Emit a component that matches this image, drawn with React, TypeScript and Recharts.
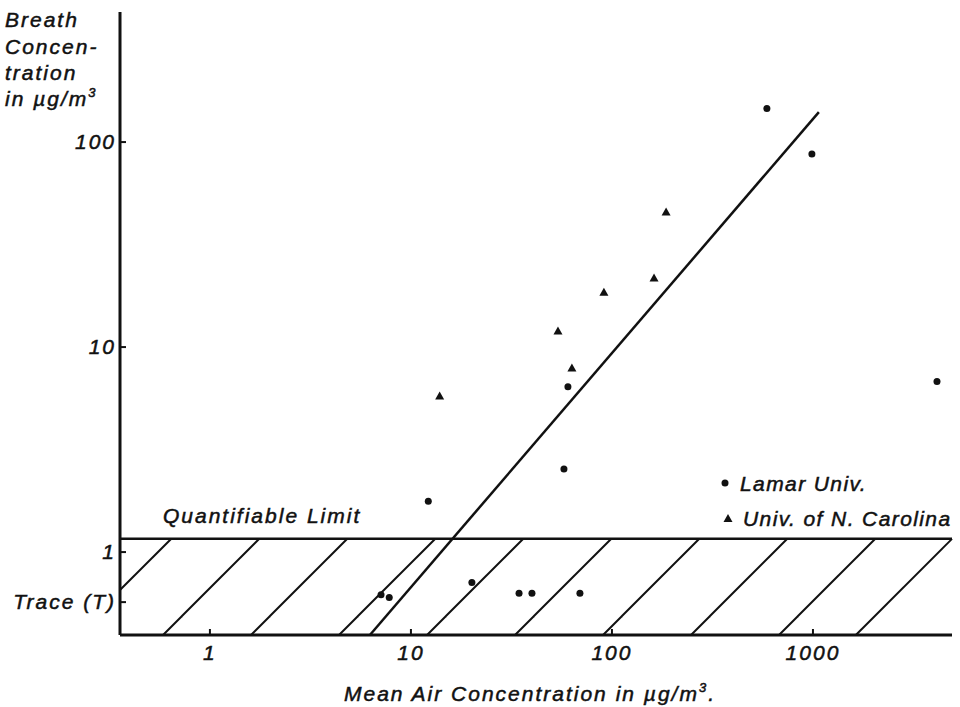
import React from 'react';
import { ScatterChart, Scatter, XAxis, YAxis, ReferenceArea, ReferenceLine } from 'recharts';

// Lamar Univ. samples (air, breath) in µg/m³
const lamarAir = [590, 988, 4140, 60.4, 57.7, 12.2, 7.1, 7.8, 20.1, 34.5, 40.0, 69.3];
const lamarBreath = [146, 87.4, 6.8, 6.4, 2.54, 1.77, 0.62, 0.6, 0.71, 0.63, 0.63, 0.63];

// Univ. of N. Carolina samples
const uncAir = [13.9, 53.9, 63.2, 91.2, 162, 186];
const uncBreath = [5.77, 11.97, 7.9, 18.5, 21.7, 45.6];

// fitted line end points
const fitAir = [6.25, 1070];
const fitBreath = [0.394, 140];

const xTicks = [1, 10, 100, 1000];
const yTicks = [0.57, 1, 10, 100];
const yTickLabels = ['Trace (T)', '1', '10', '100'];
const quantLimit = 1.16;

const xDomain = [0.357, 4917];
const yDomain = [0.394, 431];

const FONT = '"Liberation Sans", Arial, sans-serif';
const textStyle = {
  fontFamily: FONT,
  fontStyle: 'italic',
  fontSize: 21,
  letterSpacing: 2,
  fill: '#111',
  stroke: '#111',
  strokeWidth: 0.5,
};

const lamarData = lamarAir.map((x, i) => ({ x, y: lamarBreath[i] }));
const uncData = uncAir.map((x, i) => ({ x, y: uncBreath[i] }));

const Dot = (p: any) => <circle cx={p.cx} cy={p.cy} r={3.5} fill="#111" />;

const Tri = (p: any) => (
  <polygon
    points={`${p.cx},${p.cy - 4.5} ${p.cx + 4.5},${p.cy + 3.5} ${p.cx - 4.5},${p.cy + 3.5}`}
    fill="#111"
  />
);

const XTick = (p: any) => (
  <g>
    <line x1={p.x} y1={p.y} x2={p.x} y2={p.y - 6} stroke="#111" strokeWidth={2} />
    <text x={p.x} y={p.y + 25} textAnchor="middle" {...textStyle}>
      {p.payload.value}
    </text>
  </g>
);

const YTick = (p: any) => {
  const idx = yTicks.indexOf(p.payload.value);
  return (
    <g>
      <line x1={p.x} y1={p.y} x2={p.x + 6} y2={p.y} stroke="#111" strokeWidth={2} />
      <text x={p.x - 4} y={p.y + 7} textAnchor="end" {...textStyle}>
        {yTickLabels[idx]}
      </text>
    </g>
  );
};

const YTitle = (p: any) => {
  const vb = p.viewBox || { x: 0, y: 12 };
  const x = 5;
  return (
    <text {...textStyle}>
      <tspan x={x} y={vb.y + 15}>Breath</tspan>
      <tspan x={x} y={vb.y + 42}>Concen-</tspan>
      <tspan x={x} y={vb.y + 68}>tration</tspan>
      <tspan x={x} y={vb.y + 94}>in µg/m</tspan>
      <tspan fontSize={13} dy={-9}>3</tspan>
    </text>
  );
};

const XTitle = (p: any) => {
  const vb = p.viewBox || { x: 120, y: 635 };
  return (
    <text x={vb.x + 410} y={vb.y + 66} textAnchor="middle" {...textStyle}>
      Mean Air Concentration in µg/m
      <tspan fontSize={13} dy={-9}>3</tspan>
      <tspan dy={9}>.</tspan>
    </text>
  );
};

// hatched band below the quantifiable limit, right edge slanted like the hatching
const Band = (p: any) => {
  const { x, y, width, height } = p;
  const right = x + width;
  return (
    <g>
      <defs>
        <pattern id="hatch" patternUnits="userSpaceOnUse" x={6} y={0} width={88} height={88}>
          <line x1={0} y1={88} x2={88} y2={0} stroke="#111" strokeWidth={2} />
          <line x1={-8} y1={8} x2={8} y2={-8} stroke="#111" strokeWidth={2} />
          <line x1={80} y1={96} x2={96} y2={80} stroke="#111" strokeWidth={2} />
        </pattern>
      </defs>
      <path
        d={`M${x},${y} L${right},${y} L${right - height},${y + height} L${x},${y + height} Z`}
        fill="url(#hatch)"
        stroke="none"
      />
      <line x1={x} y1={y} x2={right} y2={y} stroke="#111" strokeWidth={2.5} />
      <line x1={right} y1={y} x2={right - height} y2={y + height} stroke="#111" strokeWidth={2} />
      <text x={x + 43} y={y - 16} {...textStyle}>
        Quantifiable Limit
      </text>
    </g>
  );
};

const legendText = { ...textStyle, letterSpacing: 1.4 };

const Legend = () => (
  <svg width={245} height={70} style={{ position: 'absolute', left: 715, top: 465 }}>
    <circle cx={10} cy={18} r={3.5} fill="#111" />
    <text x={25} y={25.5} {...legendText}>Lamar Univ.</text>
    <polygon points="13,49 17.5,57 8.5,57" fill="#111" />
    <text x={28} y={60.5} {...legendText}>Univ. of N. Carolina</text>
  </svg>
);

export default function App() {
  return (
    <div style={{ position: 'absolute', left: 0, top: 0, width: 960, height: 707, background: '#fff' }}>
      <ScatterChart width={960} height={707} margin={{ top: 12, right: 8, bottom: 12, left: 0 }}>
        <XAxis
          type="number"
          dataKey="x"
          scale="log"
          domain={xDomain}
          allowDataOverflow
          ticks={xTicks}
          tick={<XTick />}
          tickLine={false}
          tickSize={0}
          tickMargin={0}
          height={60}
          axisLine={{ stroke: '#111', strokeWidth: 3 }}
          label={{ content: <XTitle /> }}
        />
        <YAxis
          type="number"
          dataKey="y"
          scale="log"
          domain={yDomain}
          allowDataOverflow
          ticks={yTicks}
          tick={<YTick />}
          tickLine={false}
          tickSize={0}
          tickMargin={0}
          width={120}
          axisLine={{ stroke: '#111', strokeWidth: 3 }}
          label={{ content: <YTitle /> }}
        />
        <ReferenceArea
          x1={xDomain[0]}
          x2={xDomain[1]}
          y1={yDomain[0]}
          y2={quantLimit}
          shape={<Band />}
          ifOverflow="visible"
        />
        <ReferenceLine
          segment={[
            { x: fitAir[0], y: fitBreath[0] },
            { x: fitAir[1], y: fitBreath[1] },
          ]}
          stroke="#111"
          strokeWidth={2.5}
          ifOverflow="visible"
        />
        <Scatter data={lamarData} shape={<Dot />} isAnimationActive={false} />
        <Scatter data={uncData} shape={<Tri />} isAnimationActive={false} />
      </ScatterChart>
      <Legend />
    </div>
  );
}
